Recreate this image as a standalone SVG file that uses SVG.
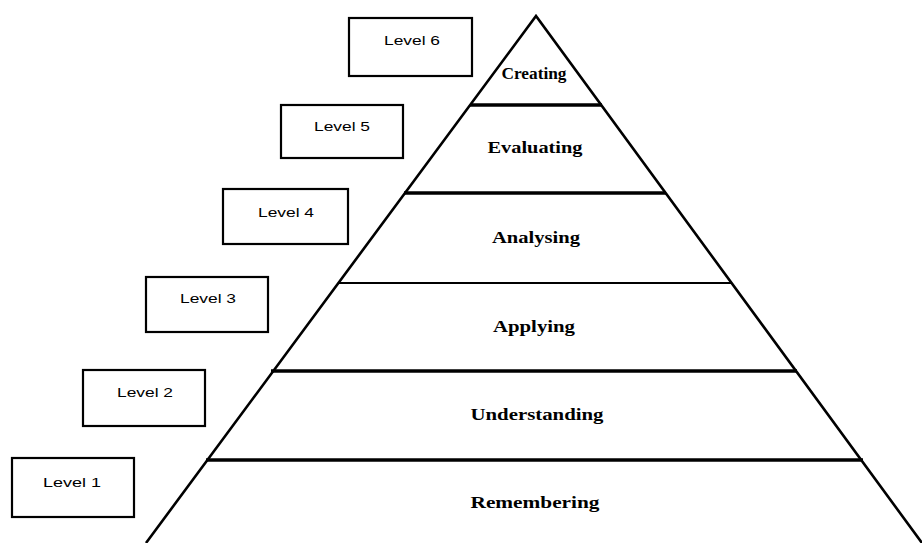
<svg xmlns="http://www.w3.org/2000/svg" width="922" height="543" viewBox="0 0 922 543">
<style>
.box{fill:#fff;stroke:#000;stroke-width:2.2}
.bt{font-family:"Liberation Sans",Arial,sans-serif;font-size:13px;fill:#000;text-anchor:middle}
.lt{font-family:"Liberation Serif","Times New Roman",serif;font-size:16px;font-weight:bold;fill:#000;text-anchor:middle}
.side{stroke:#000;stroke-width:2.6;fill:none}
.thick{stroke:#000;stroke-width:3.6}
.thin{stroke:#000;stroke-width:2}
</style>
<rect width="922" height="543" fill="#fff"/>
<g id="pyramid">
<line class="thick" x1="470" y1="105" x2="602" y2="105"/>
<line class="thick" x1="404" y1="193" x2="666" y2="193"/>
<line class="thin" x1="338" y1="283" x2="732" y2="283"/>
<line class="thick" x1="271" y1="371" x2="797" y2="371"/>
<line class="thick" x1="206" y1="460" x2="863" y2="460"/>
<polyline class="side" points="146,543 536,16 922,543"/>
</g>
<g id="creating"><text class="lt" x="534" y="79" textLength="65" lengthAdjust="spacingAndGlyphs">Creating</text></g>
<g id="evaluating"><text class="lt" x="535" y="153" textLength="95" lengthAdjust="spacingAndGlyphs">Evaluating</text></g>
<g id="analysing"><text class="lt" x="536" y="243" textLength="88" lengthAdjust="spacingAndGlyphs">Analysing</text></g>
<g id="applying"><text class="lt" x="534" y="332" textLength="82" lengthAdjust="spacingAndGlyphs">Applying</text></g>
<g id="understanding"><text class="lt" x="537" y="420" textLength="133" lengthAdjust="spacingAndGlyphs">Understanding</text></g>
<g id="remembering"><text class="lt" x="535" y="508" textLength="129" lengthAdjust="spacingAndGlyphs">Remembering</text></g>
<g id="level6"><rect class="box" x="349" y="18" width="123" height="58"/><text class="bt" x="412" y="45" textLength="56" lengthAdjust="spacingAndGlyphs">Level 6</text></g>
<g id="level5"><rect class="box" x="281" y="105" width="122" height="53"/><text class="bt" x="342" y="131" textLength="56" lengthAdjust="spacingAndGlyphs">Level 5</text></g>
<g id="level4"><rect class="box" x="223" y="189" width="125" height="55"/><text class="bt" x="286" y="217" textLength="56" lengthAdjust="spacingAndGlyphs">Level 4</text></g>
<g id="level3"><rect class="box" x="146" y="277" width="122" height="55"/><text class="bt" x="208" y="303" textLength="56" lengthAdjust="spacingAndGlyphs">Level 3</text></g>
<g id="level2"><rect class="box" x="83" y="370" width="122" height="56"/><text class="bt" x="145" y="397" textLength="56" lengthAdjust="spacingAndGlyphs">Level 2</text></g>
<g id="level1"><rect class="box" x="12" y="458" width="122" height="59"/><text class="bt" x="72" y="487" textLength="58" lengthAdjust="spacingAndGlyphs">Level 1</text></g>
<g id="connectors"></g>
</svg>
